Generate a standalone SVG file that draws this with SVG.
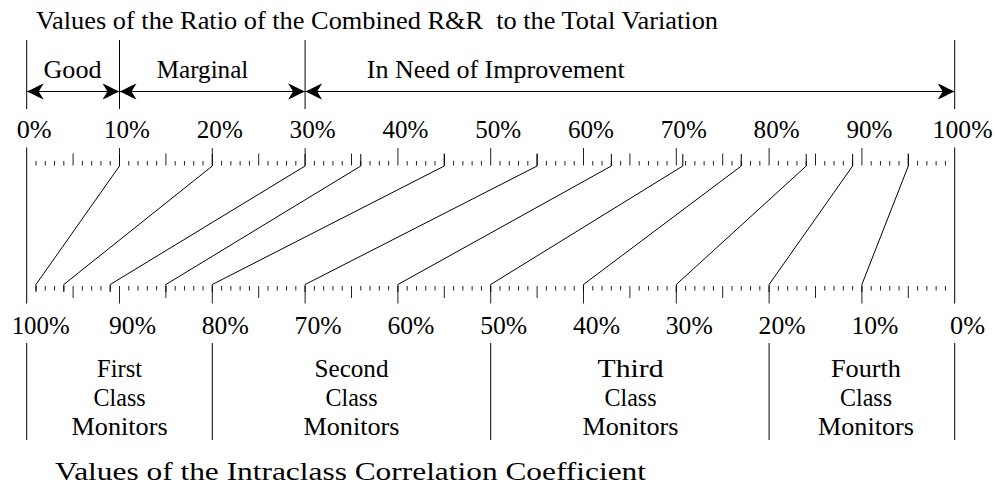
<svg xmlns="http://www.w3.org/2000/svg" xmlns:xlink="http://www.w3.org/1999/xlink" width="995" height="487" viewBox="0 0 995 487" font-family="'Liberation Serif', 'Times New Roman', serif">
<style>
.t{font-family:'Liberation Serif','Times New Roman',serif;font-size:25px;fill:#000}
.m{text-anchor:middle}
.ln{stroke:#000;stroke-width:1;fill:none}
.tk{stroke:#222;stroke-width:1;fill:none}
</style>
<defs>
<marker id="ah" viewBox="-18 -9 19 18" refX="0" refY="0" markerWidth="19" markerHeight="18" markerUnits="userSpaceOnUse" orient="auto-start-reverse">
<path d="M0,0 C-5,-2 -12,-6 -17,-8 L-12,0 L-17,8 C-12,6 -5,2 0,0 Z" fill="#000"/>
</marker>
<path id="mi" d="M35.98 0v4.5M45.26 0v4.5M54.54 0v4.5M63.82 0v4.5M82.38 0v4.5M91.66 0v4.5M100.94 0v4.5M110.22 0v4.5M128.78 0v4.5M138.06 0v4.5M147.34 0v4.5M156.62 0v4.5M175.18 0v4.5M184.46 0v4.5M193.74 0v4.5M203.02 0v4.5M221.58 0v4.5M230.86 0v4.5M240.14 0v4.5M249.42 0v4.5M267.98 0v4.5M277.26 0v4.5M286.54 0v4.5M295.82 0v4.5M314.38 0v4.5M323.66 0v4.5M332.94 0v4.5M342.22 0v4.5M360.78 0v4.5M370.06 0v4.5M379.34 0v4.5M388.62 0v4.5M407.18 0v4.5M416.46 0v4.5M425.74 0v4.5M435.02 0v4.5M453.58 0v4.5M462.86 0v4.5M472.14 0v4.5M481.42 0v4.5M499.98 0v4.5M509.26 0v4.5M518.54 0v4.5M527.82 0v4.5M546.38 0v4.5M555.66 0v4.5M564.94 0v4.5M574.22 0v4.5M592.78 0v4.5M602.06 0v4.5M611.34 0v4.5M620.62 0v4.5M639.18 0v4.5M648.46 0v4.5M657.74 0v4.5M667.02 0v4.5M685.58 0v4.5M694.86 0v4.5M704.14 0v4.5M713.42 0v4.5M731.98 0v4.5M741.26 0v4.5M750.54 0v4.5M759.82 0v4.5M778.38 0v4.5M787.66 0v4.5M796.94 0v4.5M806.22 0v4.5M824.78 0v4.5M834.06 0v4.5M843.34 0v4.5M852.62 0v4.5M871.18 0v4.5M880.46 0v4.5M889.74 0v4.5M899.02 0v4.5M917.58 0v4.5M926.86 0v4.5M936.14 0v4.5M945.42 0v4.5"/>
<path id="me" d="M73.1 0v12M165.9 0v12M258.7 0v12M351.5 0v12M444.3 0v12M537.1 0v12M629.9 0v12M722.7 0v12M815.5 0v12M908.3 0v12"/>
<path id="ma" d="M119.5 0v17.5M212.3 0v17.5M305.1 0v17.5M397.9 0v17.5M490.7 0v17.5M583.5 0v17.5M676.3 0v17.5M769.1 0v17.5M861.9 0v17.5"/>
</defs>
<rect width="995" height="487" fill="#fff"/>

<g id="title-top">
<text class="t" x="36" y="29" textLength="682" lengthAdjust="spacingAndGlyphs" xml:space="preserve">Values of the Ratio of the Combined R&amp;R  to the Total Variation</text>
</g>

<g id="zone-bars">
<path class="ln" d="M26.7 40V109M119.5 40V109M305.1 40V109M954.7 40V109"/>
</g>
<g id="zone-good">
<line class="ln" x1="26.7" y1="91.5" x2="119.5" y2="91.5" marker-start="url(#ah)" marker-end="url(#ah)"/>
<text class="t m" x="72.5" y="78" textLength="58" lengthAdjust="spacingAndGlyphs">Good</text>
</g>
<g id="zone-marginal">
<line class="ln" x1="119.5" y1="91.5" x2="305.1" y2="91.5" marker-start="url(#ah)" marker-end="url(#ah)"/>
<text class="t m" x="202.5" y="78" textLength="91.6" lengthAdjust="spacingAndGlyphs">Marginal</text>
</g>
<g id="zone-improve">
<line class="ln" x1="305.1" y1="91.5" x2="954.7" y2="91.5" marker-start="url(#ah)" marker-end="url(#ah)"/>
<text class="t m" x="495.8" y="78" textLength="258" lengthAdjust="spacingAndGlyphs">In Need of Improvement</text>
</g>

<g id="scale-top">
<use xlink:href="#mi" href="#mi" y="161" class="tk"/>
<use xlink:href="#me" href="#me" y="153.5" class="tk"/>
<use xlink:href="#ma" href="#ma" y="148" class="tk"/>
<path class="ln" d="M26.7 147.5V303.5M954.7 147.5V303.5"/>
<g class="t m">
<text x="34.2" y="138" textLength="35" lengthAdjust="spacingAndGlyphs">0%</text>
<text x="127" y="138" textLength="46" lengthAdjust="spacingAndGlyphs">10%</text>
<text x="219.8" y="138" textLength="46" lengthAdjust="spacingAndGlyphs">20%</text>
<text x="312.6" y="138" textLength="46" lengthAdjust="spacingAndGlyphs">30%</text>
<text x="405.4" y="138" textLength="46" lengthAdjust="spacingAndGlyphs">40%</text>
<text x="498.2" y="138" textLength="46" lengthAdjust="spacingAndGlyphs">50%</text>
<text x="591" y="138" textLength="46" lengthAdjust="spacingAndGlyphs">60%</text>
<text x="683.8" y="138" textLength="46" lengthAdjust="spacingAndGlyphs">70%</text>
<text x="776.6" y="138" textLength="46" lengthAdjust="spacingAndGlyphs">80%</text>
<text x="869.4" y="138" textLength="46" lengthAdjust="spacingAndGlyphs">90%</text>
<text x="962.6" y="138" textLength="60" lengthAdjust="spacingAndGlyphs">100%</text>
</g>
</g>

<g id="scale-bottom">
<use xlink:href="#mi" href="#mi" y="286" class="tk"/>
<use xlink:href="#me" href="#me" y="286" class="tk"/>
<use xlink:href="#ma" href="#ma" y="286" class="tk"/>
<g class="t m">
<text x="40.7" y="334" textLength="58" lengthAdjust="spacingAndGlyphs">100%</text>
<text x="132.5" y="334" textLength="47" lengthAdjust="spacingAndGlyphs">90%</text>
<text x="225.3" y="334" textLength="47" lengthAdjust="spacingAndGlyphs">80%</text>
<text x="318.1" y="334" textLength="47" lengthAdjust="spacingAndGlyphs">70%</text>
<text x="410.9" y="334" textLength="47" lengthAdjust="spacingAndGlyphs">60%</text>
<text x="503.7" y="334" textLength="47" lengthAdjust="spacingAndGlyphs">50%</text>
<text x="596.5" y="334" textLength="47" lengthAdjust="spacingAndGlyphs">40%</text>
<text x="689.3" y="334" textLength="47" lengthAdjust="spacingAndGlyphs">30%</text>
<text x="782.1" y="334" textLength="47" lengthAdjust="spacingAndGlyphs">20%</text>
<text x="874.9" y="334" textLength="47" lengthAdjust="spacingAndGlyphs">10%</text>
<text x="967.5" y="334" textLength="35" lengthAdjust="spacingAndGlyphs">0%</text>
</g>
</g>

<g id="connectors" class="ln">
<polyline points="119.5,154 119.5,166 35.98,284.5 35.98,292"/>
<polyline points="212.3,154 212.3,166 63.82,284.5 63.82,292"/>
<polyline points="305.1,154 305.1,166 110.22,284.5 110.22,292"/>
<polyline points="360.78,154 360.78,166 165.9,284.5 165.9,292"/>
<polyline points="444.3,154 444.3,166 212.3,284.5 212.3,292"/>
<polyline points="537.1,154 537.1,166 305.1,284.5 305.1,292"/>
<polyline points="611.34,154 611.34,166 397.9,284.5 397.9,292"/>
<polyline points="682.8,154 682.8,166 490.7,284.5 490.7,292"/>
<polyline points="741.26,154 741.26,166 583.5,284.5 583.5,292"/>
<polyline points="806.22,154 806.22,166 676.3,284.5 676.3,292"/>
<polyline points="852.62,154 852.62,166 769.1,284.5 769.1,292"/>
<polyline points="908.3,154 908.3,166 861.9,284.5 861.9,292"/>
</g>

<g id="class-separators">
<path class="ln" d="M26.7 343V440M212.3 343V440M490.7 343V440M769.1 343V440M954.7 343V440"/>
</g>
<g id="class-first" class="t m">
<text x="119.6" y="376.7" textLength="45" lengthAdjust="spacingAndGlyphs">First</text>
<text x="119.6" y="405.7" textLength="52" lengthAdjust="spacingAndGlyphs">Class</text>
<text x="119.6" y="435" textLength="96" lengthAdjust="spacingAndGlyphs">Monitors</text>
</g>
<g id="class-second" class="t m">
<text x="351.5" y="376.7" textLength="74" lengthAdjust="spacingAndGlyphs">Second</text>
<text x="351.5" y="405.7" textLength="52" lengthAdjust="spacingAndGlyphs">Class</text>
<text x="351.5" y="435" textLength="96" lengthAdjust="spacingAndGlyphs">Monitors</text>
</g>
<g id="class-third" class="t m">
<text x="630.5" y="376.7" textLength="66" lengthAdjust="spacingAndGlyphs">Third</text>
<text x="630.5" y="405.7" textLength="52" lengthAdjust="spacingAndGlyphs">Class</text>
<text x="630.5" y="435" textLength="96" lengthAdjust="spacingAndGlyphs">Monitors</text>
</g>
<g id="class-fourth" class="t m">
<text x="866" y="376.7" textLength="70" lengthAdjust="spacingAndGlyphs">Fourth</text>
<text x="866" y="405.7" textLength="52" lengthAdjust="spacingAndGlyphs">Class</text>
<text x="866" y="435" textLength="96" lengthAdjust="spacingAndGlyphs">Monitors</text>
</g>

<g id="title-bottom">
<text class="t" x="55" y="480" textLength="591" lengthAdjust="spacingAndGlyphs">Values of the Intraclass Correlation Coefficient</text>
</g>
</svg>
